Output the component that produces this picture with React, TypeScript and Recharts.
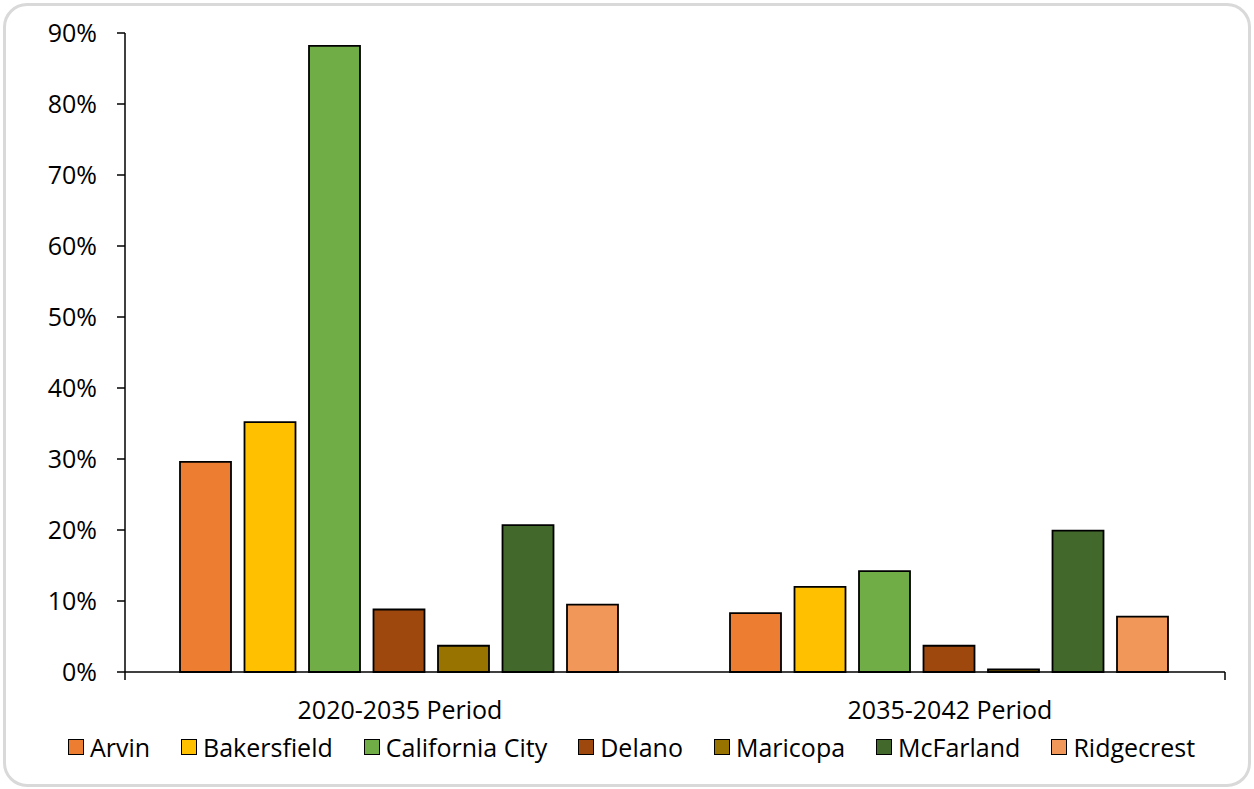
import React from 'react';
import { BarChart, Bar, XAxis, YAxis, Legend } from 'recharts';

const periods = ['2020-2035 Period', '2035-2042 Period'];
const cities = ['Arvin', 'Bakersfield', 'California City', 'Delano', 'Maricopa', 'McFarland', 'Ridgecrest'];
const colors = ['#ED7D31', '#FFC000', '#70AD47', '#9E480E', '#997300', '#43682B', '#F1975A'];

const arvin = [0.296, 0.083];
const bakersfield = [0.352, 0.12];
const californiaCity = [0.882, 0.142];
const delano = [0.088, 0.037];
const maricopa = [0.037, 0.0035];
const mcfarland = [0.207, 0.199];
const ridgecrest = [0.095, 0.078];

const yTicks = [0, 0.1, 0.2, 0.3, 0.4, 0.5, 0.6, 0.7, 0.8, 0.9];

const seriesValues = [arvin, bakersfield, californiaCity, delano, maricopa, mcfarland, ridgecrest];

const data = periods.map((p, i) => {
  const row: Record<string, string | number> = { period: p };
  cities.forEach((c, j) => {
    row[c] = seriesValues[j][i];
  });
  return row;
});

const FONT = '"Open Sans", Lato, sans-serif';

const LegendContent = () => (
  <div
    style={{
      display: 'flex',
      justifyContent: 'center',
      alignItems: 'center',
      height: 40,
      paddingLeft: 38,
      boxSizing: 'border-box',
      fontFamily: FONT,
      fontSize: 25,
      color: '#000',
    }}
  >
    {cities.map((c, i) => (
      <div key={c} style={{ display: 'flex', alignItems: 'center', marginRight: i < cities.length - 1 ? 31 : 0 }}>
        <span
          style={{
            display: 'inline-block',
            width: 14,
            height: 14,
            background: colors[i],
            border: '1.5px solid #000',
            marginRight: 6,
          }}
        />
        <span>{c}</span>
      </div>
    ))}
  </div>
);

export default function App() {
  return (
    <div style={{ position: 'absolute', left: 0, top: 0, width: 1254, height: 789, background: '#fff' }}>
      <div
        style={{
          position: 'absolute',
          left: 3,
          top: 3,
          width: 1248,
          height: 784,
          boxSizing: 'border-box',
          border: '3px solid #d9d9d9',
          borderRadius: 24,
        }}
      />
      <div style={{ position: 'absolute', left: 0, top: 0 }}>
        <BarChart
          width={1254}
          height={789}
          data={data}
          margin={{ top: 33, right: 29, left: 0, bottom: 22 }}
          barCategoryGap="10%"
          barGap={13.5}
        >
          <XAxis
            xAxisId="b1"
            dataKey="period"
            axisLine={false}
            tickLine={false}
            tickSize={0}
            tickMargin={28}
            height={54}
            tick={{ fill: '#000', fontSize: 25, fontFamily: FONT }}
          />
          <XAxis
            xAxisId="a0"
            type="number"
            domain={[0, 2]}
            ticks={[0, 1, 2]}
            allowDataOverflow
            interval={0}
            tickFormatter={() => ''}
            tick={{ fontSize: 1 }}
            tickSize={8}
            height={1}
            axisLine={{ stroke: '#000', strokeWidth: 1.5 }}
            tickLine={{ stroke: '#000', strokeWidth: 1.5 }}
          />
          <YAxis
            width={125}
            domain={[0, 0.9]}
            ticks={yTicks}
            tickFormatter={(v: number) => `${Math.round(v * 100)}%`}
            tickSize={8}
            tickMargin={20}
            axisLine={{ stroke: '#000', strokeWidth: 1.5 }}
            tickLine={{ stroke: '#000', strokeWidth: 1.5 }}
            tick={{ fill: '#000', fontSize: 25, fontFamily: FONT }}
            interval={0}
          />
          <Legend verticalAlign="bottom" height={40} content={<LegendContent />} />
          {cities.map((c, i) => (
            <Bar
              key={c}
              xAxisId="b1"
              dataKey={c}
              fill={colors[i]}
              stroke="#000"
              strokeWidth={1.8}
              isAnimationActive={false}
            />
          ))}
        </BarChart>
      </div>
    </div>
  );
}
